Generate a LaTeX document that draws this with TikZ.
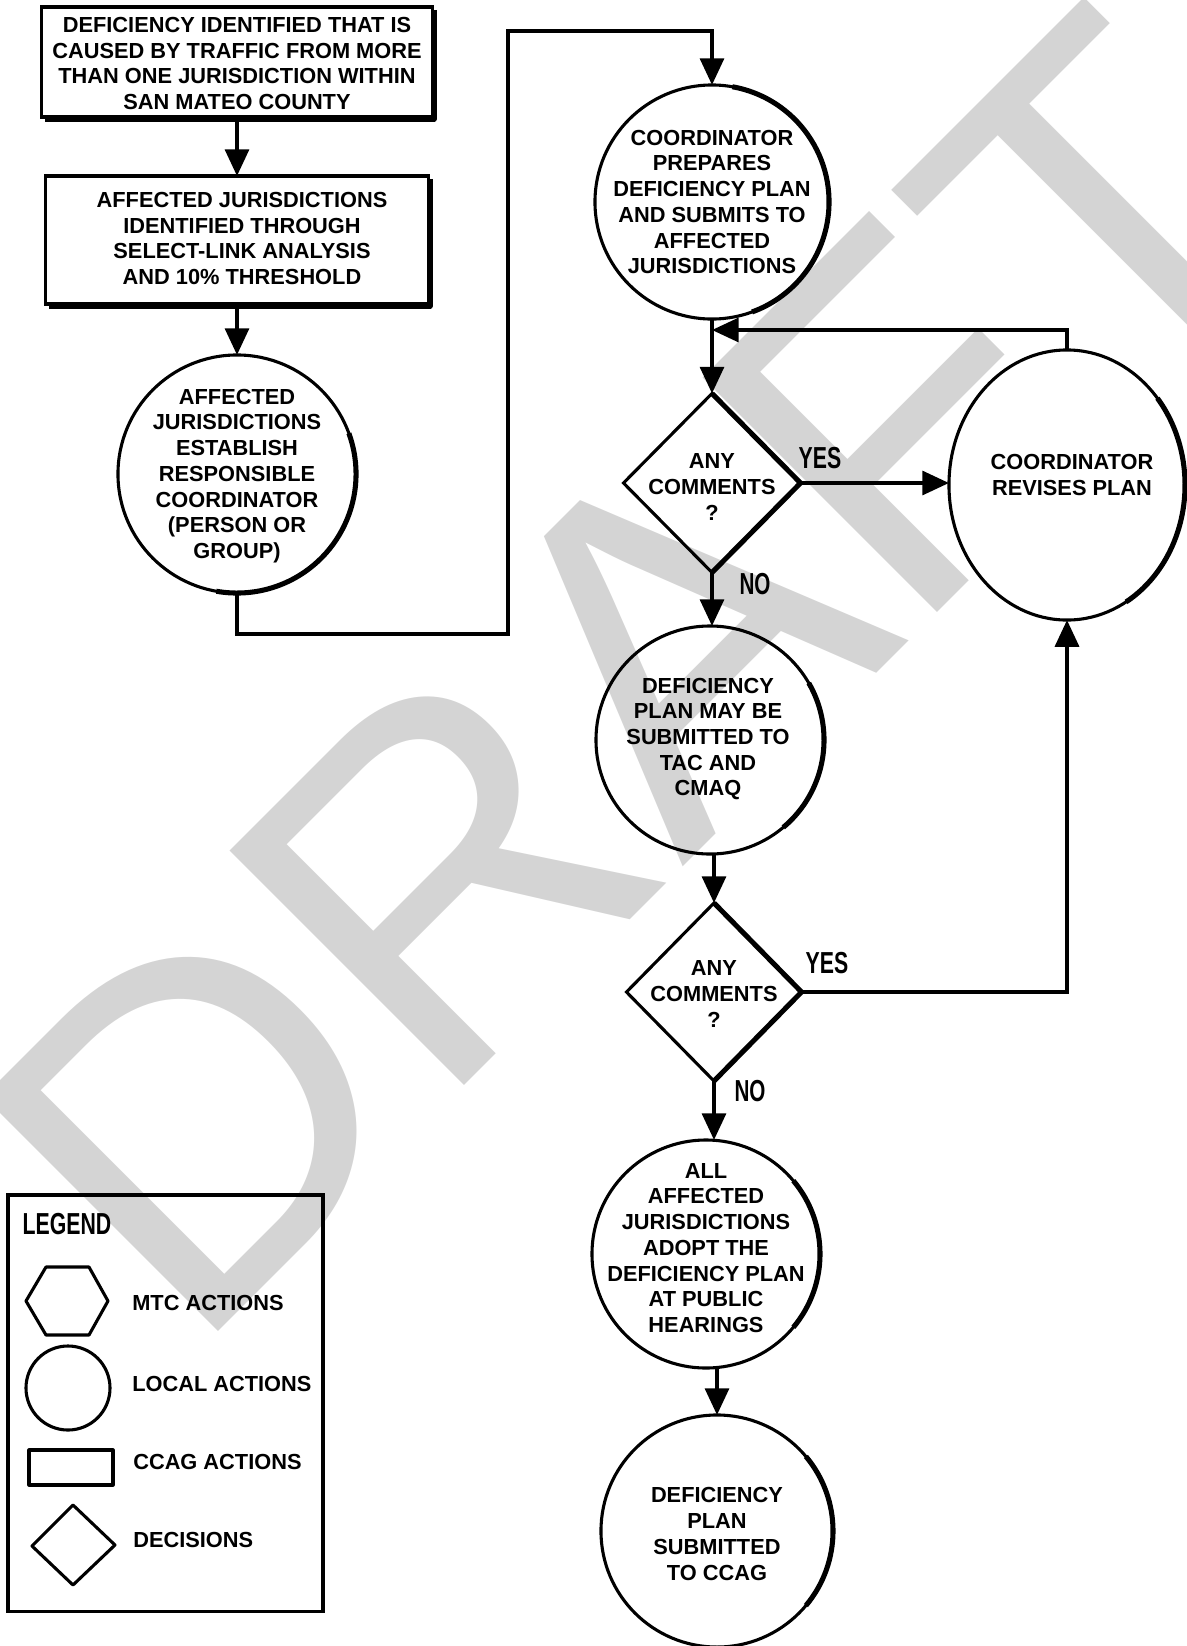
\documentclass[tikz,border=0pt]{standalone}
\usepackage{fontspec}
\setmainfont{Liberation Sans}
\usetikzlibrary{shapes.geometric,arrows.meta,calc}
\definecolor{wm}{RGB}{212,212,212}
\tikzset{
  shp/.style={draw, line width=2.2pt, inner sep=0pt, outer sep=0pt},
  boxs/.style={shp, rectangle},
  circ/.style={shp, circle},
  dia/.style={shp, diamond},
  heavy/.style={line width=3.6pt, line join=round},
  txt/.style={align=center, inner sep=0pt, font=\fontsize{15.5}{18.3}\selectfont\bfseries},
  yn/.style={inner sep=0pt, font=\fontsize{21.6}{22}\selectfont\bfseries},
  conn/.style={line width=2.6pt},
  arr/.style={conn, -{Triangle[length=19pt,width=17pt]}},
  legtxt/.style={anchor=west, inner sep=0pt, font=\fontsize{15.5}{18}\selectfont\bfseries},
  legshape/.style={line width=2.2pt, line join=round},
}
\begin{document}
\begin{tikzpicture}[x=0.025cm,y=0.025cm]
\useasboundingbox (0,0) rectangle (1186,-1646);
% watermark
\begin{scope}
\clip (0,0) rectangle (1186,-1646);
\node[anchor=base west, rotate=45, inner sep=0pt, text=wm, font=\fontsize{342.8}{400}\selectfont] (wmk) at (190,-1360) {DRAFT};
\end{scope}

% boxes
\node[boxs, minimum width=9.75cm, minimum height=2.75cm] (b1) at (237,-62) {};
\node[txt] (b1t) at (237,-63.5) {DEFICIENCY IDENTIFIED THAT IS\\CAUSED BY TRAFFIC FROM MORE\\THAN ONE JURISDICTION WITHIN\\SAN MATEO COUNTY};
\draw[heavy] ($(b1.north east)+(2,-3)$) -- ($(b1.south east)+(2,-2)$) -- ($(b1.south west)+(3,-2)$);

\node[boxs, minimum width=9.55cm, minimum height=3.2cm] (b2) at (237,-240) {};
\node[txt] (b2t) at (242,-238.5) {AFFECTED JURISDICTIONS\\IDENTIFIED THROUGH\\SELECT-LINK ANALYSIS\\AND 10\% THRESHOLD};
\draw[heavy] ($(b2.north east)+(2,-3)$) -- ($(b2.south east)+(2,-2)$) -- ($(b2.south west)+(3,-2)$);

% circles
\node[circ, minimum size=5.95cm] (c1) at (237,-474) {};
\node[txt] (c1t) at (237,-476) {AFFECTED\\JURISDICTIONS\\ESTABLISH\\RESPONSIBLE\\COORDINATOR\\(PERSON OR\\GROUP)};
\draw[heavy] (c1.20) arc[start angle=20, end angle=-100, radius=2.975cm];

\node[circ, minimum size=5.85cm] (c2) at (712,-202) {};
\node[txt] (c2t) at (712,-202) {COORDINATOR\\PREPARES\\DEFICIENCY PLAN\\AND SUBMITS TO\\AFFECTED\\JURISDICTIONS};
\draw[heavy] (c2.80) arc[start angle=80, end angle=-70, radius=2.925cm];

\node[shp, ellipse, minimum width=5.9cm, minimum height=6.75cm] (rc) at (1067,-485) {};
\node[txt] (rct) at (1072,-475) {COORDINATOR\\REVISES PLAN};
\draw[heavy] ([shift={(40:2.95cm and 3.375cm)}]rc.center) arc[start angle=40, end angle=-60, x radius=2.95cm, y radius=3.375cm];

\node[dia, minimum width=4.425cm, minimum height=4.475cm] (d1) at (712,-483) {};
\node[txt] (d1t) at (712,-487) {ANY\\COMMENTS\\?};
\draw[heavy] (d1.north) -- (d1.east) -- (d1.south);

\node[circ, minimum size=5.7cm] (c3) at (710,-740) {};
\node[txt] (c3t) at (708,-739) {DEFICIENCY\\PLAN MAY BE\\SUBMITTED TO\\TAC AND\\CMAQ};
\draw[heavy] (c3.30) arc[start angle=30, end angle=-50, radius=2.85cm];

\node[dia, minimum width=4.375cm, minimum height=4.45cm] (d2) at (714,-992) {};
\node[txt] (d2t) at (714,-994) {ANY\\COMMENTS\\?};
\draw[heavy] (d2.north) -- (d2.east) -- (d2.south);

\node[circ, minimum size=5.7cm] (c4) at (706,-1254) {};
\node[txt] (c4t) at (706,-1248) {ALL\\AFFECTED\\JURISDICTIONS\\ADOPT THE\\DEFICIENCY PLAN\\AT PUBLIC\\HEARINGS};
\draw[heavy] (c4.40) arc[start angle=40, end angle=-40, radius=2.85cm];

\node[circ, minimum size=5.8cm] (c5) at (717,-1531) {};
\node[txt] (c5t) at (717,-1534) {DEFICIENCY\\PLAN\\SUBMITTED\\TO CCAG};
\draw[heavy] (c5.40) arc[start angle=40, end angle=-40, radius=2.9cm];

% yes / no labels
\node[yn] (y1) at (820,-458) {\scalebox{0.7}[1]{YES}};
\node[yn] (n1) at (755,-584) {\scalebox{0.68}[1]{NO}};
\node[yn] (y2) at (827,-963) {\scalebox{0.7}[1]{YES}};
\node[yn] (n2) at (750,-1091) {\scalebox{0.68}[1]{NO}};

% connectors
\coordinate (k1) at (508,-634);
\coordinate (k2) at (508,-31);
\coordinate (j1) at (712,-330);
\draw[arr] (b1.south) -- (b2.north);
\draw[arr] (b2.south) -- (c1.north);
\draw[arr] (c1.south) |- (k1) -- (k2) -| (c2.north);
\draw[arr] (c2.south) -- (d1.north);
\draw[arr] (rc.north) |- (j1);
\draw[arr] (d1.east) -- (d1.east -| rc.west);
\draw[arr] (d1.south) -- (d1.south |- c3.north);
\draw[arr] (d2.north |- c3.south) -- (d2.north);
\draw[arr] (d2.east) -| (rc.south);
\draw[arr] (d2.south) -- (d2.south |- c4.north);
\draw[arr] (c5.north |- c4.south) -- (c5.north);

% legend
\node[shp, rectangle, minimum width=7.875cm, minimum height=10.4cm] (leg) at (165.5,-1403) {};
\node[yn] (legt) at (67,-1224) {\scalebox{0.7}[1]{LEGEND}};
\draw[legshape] (26,-1301) -- (46,-1267) -- (89,-1267) -- (108,-1301) -- (89,-1335) -- (46,-1335) -- cycle;
\draw[legshape] (68,-1388) circle[radius=1.05cm];
\draw[legshape] (29,-1450) rectangle (113,-1485);
\draw[legshape] (32,-1546) -- (73,-1505) -- (115,-1545) -- (73,-1585) -- cycle;
\node[legtxt] (l1) at (132,-1303) {MTC ACTIONS};
\node[legtxt] (l2) at (132,-1384) {LOCAL ACTIONS};
\node[legtxt] (l3) at (133,-1462) {CCAG ACTIONS};
\node[legtxt] (l4) at (133,-1540) {DECISIONS};
\end{tikzpicture}
\end{document}
